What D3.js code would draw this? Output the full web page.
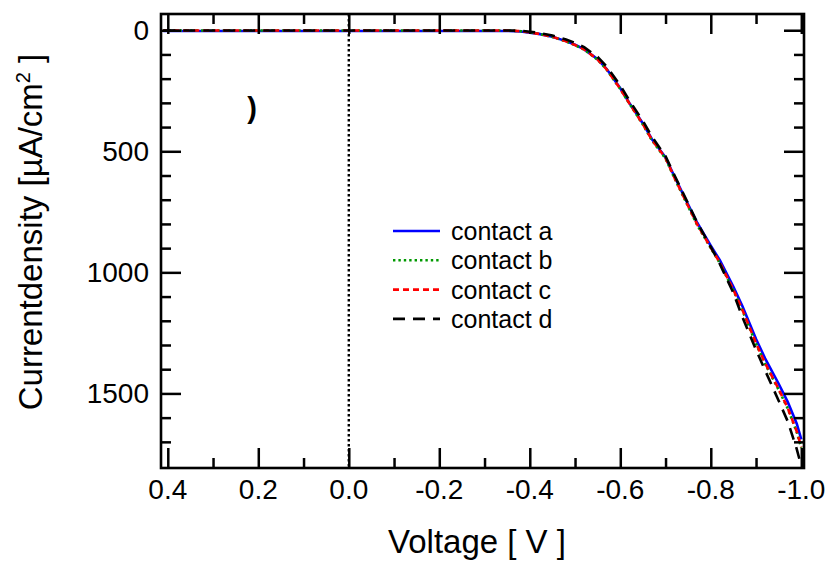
<!DOCTYPE html>
<html>
<head>
<meta charset="utf-8">
<script src="https://cdn.jsdelivr.net/npm/d3@7"></script>
<style>
  html, body { margin: 0; padding: 0; background: #fff; }
  svg { display: block; font-family: "Liberation Sans", Arial, sans-serif; }
</style>
</head>
<body>
<svg id="chart" width="832" height="562"></svg>
<script>
// ---- data ----
const voltage = [0.41, 0.3, 0.2, 0.1, 0.0, -0.1, -0.2, -0.3, -0.35, -0.38, -0.40, -0.42, -0.45, -0.48, -0.50, -0.52, -0.55, -0.57, -0.60, -0.62, -0.65, -0.67, -0.70, -0.72, -0.75, -0.77, -0.80, -0.82, -0.85, -0.87, -0.90, -0.92, -0.95, -0.97, -0.99, -1.00];
const contactA = [3, 3, 3, 3, 3, 3, 3, 3, 3, 5, 10, 15, 27, 45, 60, 78, 120, 160, 240, 300, 385, 450, 525, 605, 720, 795, 890, 950, 1060, 1140, 1275, 1355, 1460, 1535, 1625, 1690];
const contactB = [1, 1, 1, 1, 1, 1, 1, 1, 1, 4, 9, 15, 28, 46, 62, 80, 122, 163, 243, 303, 390, 455, 530, 612, 728, 805, 900, 962, 1075, 1158, 1295, 1378, 1485, 1562, 1660, 1725];
const contactC = [1, 1, 1, 1, 1, 1, 1, 1, 1, 4, 9, 15, 27, 46, 61, 79, 121, 162, 242, 302, 388, 453, 528, 610, 726, 802, 898, 960, 1072, 1155, 1293, 1375, 1482, 1560, 1657, 1722];
const contactD = [1, 1, 1, 1, 1, 1, 1, 1, 1, 2, 6, 11, 22, 38, 52, 70, 110, 150, 228, 290, 375, 440, 520, 600, 716, 795, 895, 965, 1085, 1185, 1320, 1405, 1530, 1615, 1730, 1800];
const seriesNames = ["contact a", "contact b", "contact c", "contact d"];
const xMajorTicks = [0.4, 0.2, 0.0, -0.2, -0.4, -0.6, -0.8, -1.0];
const xMinorTicks = [0.3, 0.1, -0.1, -0.3, -0.5, -0.7, -0.9];
const yMajorTicks = [0, 500, 1000, 1500];
const yMinorTicks = [100, 200, 300, 400, 600, 700, 800, 900, 1100, 1200, 1300, 1400, 1600, 1700];
const xLabel = "Voltage [ V ]";

// ---- layout ----
const svg = d3.select("#chart");
const L = 161, R = 804, T = 14, B = 468;
const x = d3.scaleLinear().domain([0.415, -1.006]).range([L, R]);
const y = d3.scaleLinear().domain([-67, 1808]).range([T, B]);

const styles = [
  { color: "#0000ff", dash: null, width: 2.6 },
  { color: "#009900", dash: "2.4,3", width: 2.6 },
  { color: "#ff0000", dash: "6,4", width: 2.6 },
  { color: "#000000", dash: "12,8", width: 2.6 }
];
const allSeries = [contactA, contactB, contactC, contactD];

svg.append("defs").append("clipPath").attr("id", "clip")
  .append("rect").attr("x", L).attr("y", T).attr("width", R - L).attr("height", B - T);

// dotted zero line
svg.append("line")
  .attr("x1", x(0)).attr("x2", x(0)).attr("y1", T).attr("y2", B)
  .attr("stroke", "#000").attr("stroke-width", 2.4).attr("stroke-dasharray", "2.5,2.5");

// curves
const line = d3.line().x((d, i) => x(voltage[i])).y(d => y(d));
const g = svg.append("g").attr("clip-path", "url(#clip)");
allSeries.forEach((s, k) => {
  g.append("path").datum(s)
    .attr("d", line)
    .attr("fill", "none")
    .attr("stroke", styles[k].color)
    .attr("stroke-width", styles[k].width)
    .attr("stroke-dasharray", styles[k].dash);
});

// axes with inward ticks using d3 axis generators
function tickAxis(axisFn, scale, ticks, len, transform) {
  const a = axisFn(scale).tickValues(ticks).tickSize(-len).tickFormat("");
  const gg = svg.append("g").attr("transform", transform).call(a);
  gg.select(".domain").remove();
  gg.selectAll(".tick line").attr("stroke", "#000").attr("stroke-width", 2.5);
  return gg;
}
tickAxis(d3.axisBottom, x, xMajorTicks, 20, `translate(0,${B})`);
tickAxis(d3.axisBottom, x, xMinorTicks, 10, `translate(0,${B})`);
tickAxis(d3.axisTop, x, xMajorTicks, 20, `translate(0,${T})`);
tickAxis(d3.axisTop, x, xMinorTicks, 10, `translate(0,${T})`);
tickAxis(d3.axisLeft, y, yMajorTicks, 20, `translate(${L},0)`);
tickAxis(d3.axisLeft, y, yMinorTicks, 10, `translate(${L},0)`);
tickAxis(d3.axisRight, y, yMajorTicks, 20, `translate(${R},0)`);
tickAxis(d3.axisRight, y, yMinorTicks, 10, `translate(${R},0)`);

// frame
svg.append("rect").attr("x", L).attr("y", T).attr("width", R - L).attr("height", B - T)
  .attr("fill", "none").attr("stroke", "#000").attr("stroke-width", 2.6);

// tick labels
const fmtX = d => d === 0 ? "0.0" : d3.format(".1f")(d).replace("−", "-");
svg.append("g").selectAll("text").data(xMajorTicks).join("text")
  .attr("x", d => x(d)).attr("y", 499)
  .attr("text-anchor", "middle").attr("font-size", 28).attr("fill", "#000")
  .text(fmtX);
svg.append("g").selectAll("text").data(yMajorTicks).join("text")
  .attr("x", 149).attr("y", d => y(d) + 10)
  .attr("text-anchor", "end").attr("font-size", 28).attr("fill", "#000")
  .text(d => d);

// axis titles
svg.append("text").attr("x", 477).attr("y", 553)
  .attr("text-anchor", "middle").attr("font-size", 33).attr("fill", "#000")
  .text(xLabel);
const yt = svg.append("text")
  .attr("transform", "translate(42,232) rotate(-90)")
  .attr("text-anchor", "middle").attr("font-size", 33).attr("fill", "#000");
yt.append("tspan").text("Currentdensity [µA/cm");
yt.append("tspan").attr("font-size", 20).attr("dy", -12).text("2");
yt.append("tspan").attr("dy", 12).text(" ]");

// stray panel mark
svg.append("text").attr("x", 252).attr("y", 118)
  .attr("text-anchor", "middle").attr("font-size", 29).attr("font-weight", "bold")
  .attr("fill", "#000").text(")");

// legend
const lg = svg.append("g");
seriesNames.forEach((name, k) => {
  const yy = 231 + k * 29.3;
  lg.append("line").attr("x1", 393).attr("x2", 440).attr("y1", yy).attr("y2", yy)
    .attr("stroke", styles[k].color).attr("stroke-width", 2.6)
    .attr("stroke-dasharray", styles[k].dash);
  lg.append("text").attr("x", 451).attr("y", yy + 9)
    .attr("font-size", 25).attr("fill", "#000").text(name);
});
</script>
</body>
</html>
